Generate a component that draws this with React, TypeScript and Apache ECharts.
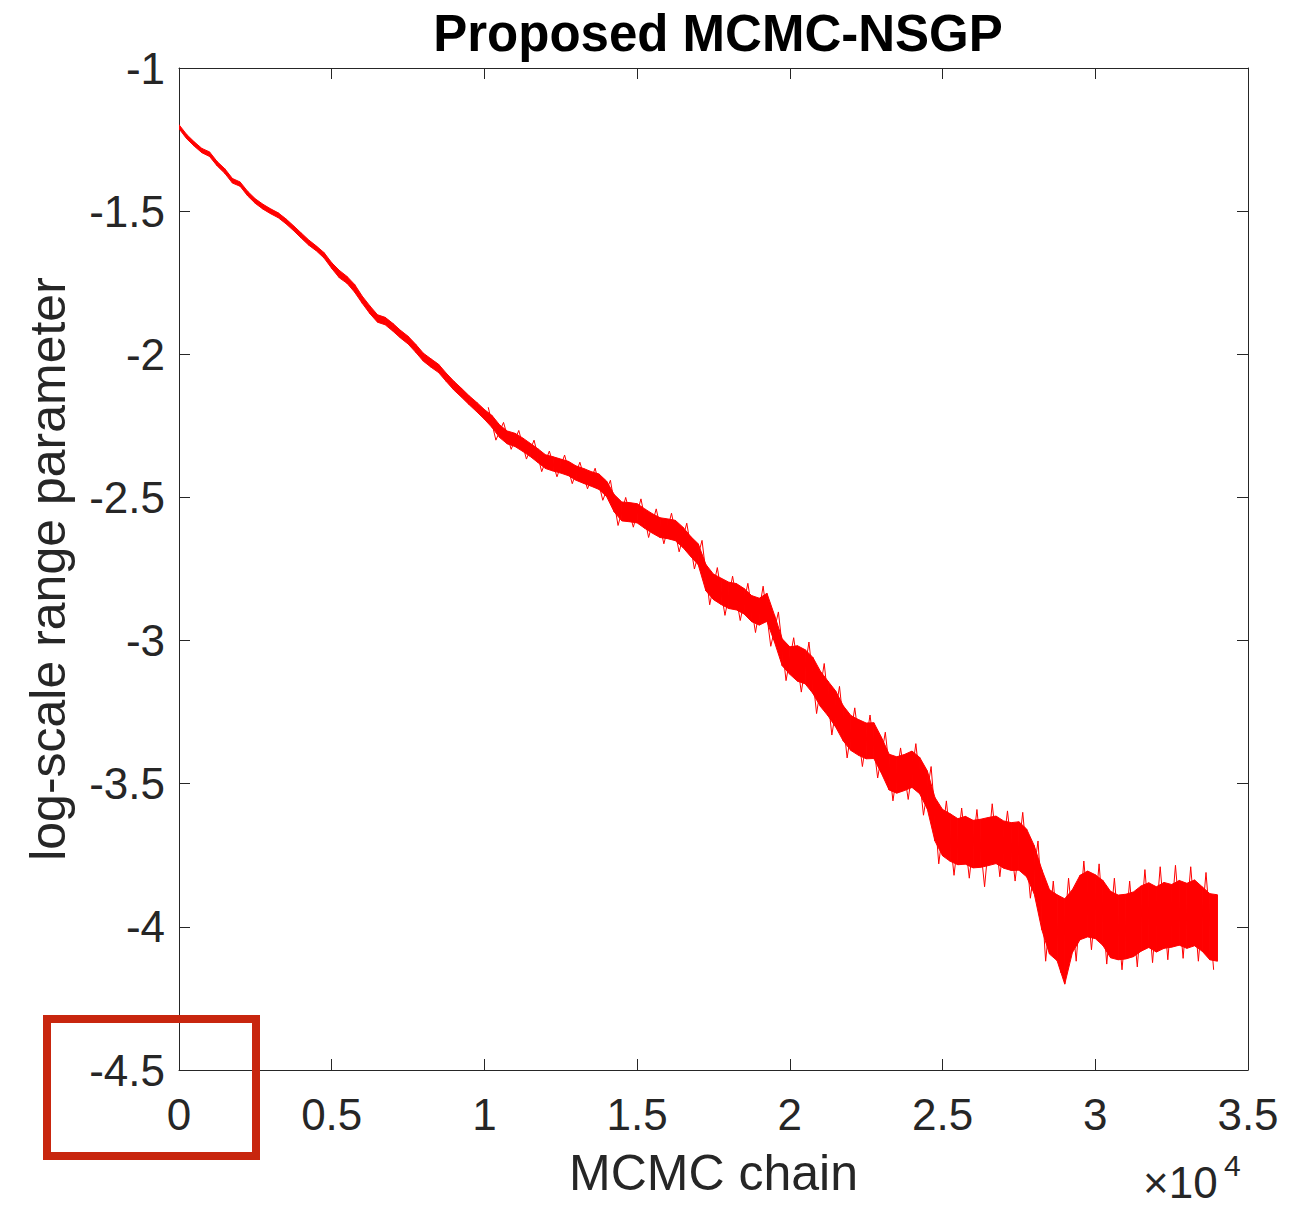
import React, { useEffect, useRef } from "react";
import * as echarts from "echarts";

// Sample spacing along the chain (iterations) for the read-off envelopes
const STEP = 250;

// Upper edge of the trace band, every 250 iterations
const upper: number[] = [
  -1.198, -1.232, -1.258, -1.281, -1.293, -1.327, -1.352, -1.386, -1.398, -1.431,
  -1.457, -1.476, -1.492, -1.506, -1.527, -1.551, -1.576, -1.601, -1.622, -1.645,
  -1.680, -1.707, -1.728, -1.756, -1.797, -1.831, -1.862, -1.871, -1.892, -1.916,
  -1.937, -1.965, -1.996, -2.016, -2.035, -2.066, -2.094, -2.119, -2.145, -2.168,
  -2.193, -2.214, -2.247, -2.268, -2.276, -2.292, -2.311, -2.330, -2.351, -2.358,
  -2.366, -2.374, -2.390, -2.399, -2.410, -2.418, -2.443, -2.490, -2.516, -2.518,
  -2.522, -2.540, -2.557, -2.571, -2.575, -2.580, -2.604, -2.636, -2.662, -2.734,
  -2.768, -2.782, -2.796, -2.801, -2.818, -2.843, -2.852, -2.835, -2.912, -2.994,
  -3.022, -3.018, -3.032, -3.058, -3.107, -3.142, -3.176, -3.228, -3.262, -3.276,
  -3.288, -3.287, -3.338, -3.397, -3.406, -3.398, -3.386, -3.408, -3.455, -3.548,
  -3.590, -3.605, -3.622, -3.614, -3.628, -3.624, -3.618, -3.613, -3.630, -3.636,
  -3.633, -3.658, -3.716, -3.800, -3.870, -3.888, -3.902, -3.870, -3.820, -3.805,
  -3.818, -3.838, -3.876, -3.889, -3.886, -3.878, -3.857, -3.846, -3.860, -3.845,
  -3.852, -3.838, -3.848, -3.836, -3.860, -3.884, -3.888,
];

// Lower edge of the trace band, every 250 iterations
const lower: number[] = [
  -1.212, -1.247, -1.273, -1.296, -1.309, -1.342, -1.368, -1.402, -1.413, -1.447,
  -1.473, -1.493, -1.509, -1.523, -1.544, -1.568, -1.594, -1.619, -1.639, -1.664,
  -1.700, -1.733, -1.752, -1.783, -1.822, -1.858, -1.888, -1.897, -1.919, -1.943,
  -1.964, -1.993, -2.024, -2.045, -2.064, -2.095, -2.125, -2.150, -2.176, -2.201,
  -2.227, -2.256, -2.291, -2.313, -2.322, -2.339, -2.357, -2.378, -2.399, -2.408,
  -2.415, -2.424, -2.440, -2.451, -2.461, -2.472, -2.497, -2.551, -2.582, -2.585,
  -2.589, -2.608, -2.625, -2.640, -2.644, -2.651, -2.675, -2.706, -2.735, -2.826,
  -2.857, -2.874, -2.888, -2.893, -2.907, -2.934, -2.946, -2.933, -3.006, -3.088,
  -3.118, -3.142, -3.151, -3.184, -3.230, -3.263, -3.302, -3.351, -3.384, -3.401,
  -3.413, -3.412, -3.464, -3.522, -3.533, -3.524, -3.513, -3.535, -3.588, -3.700,
  -3.752, -3.771, -3.783, -3.781, -3.794, -3.792, -3.786, -3.779, -3.795, -3.803,
  -3.802, -3.825, -3.884, -4.010, -4.095, -4.118, -4.200, -4.090, -4.045, -4.035,
  -4.041, -4.065, -4.108, -4.115, -4.112, -4.104, -4.085, -4.072, -4.088, -4.075,
  -4.071, -4.064, -4.075, -4.066, -4.085, -4.115, -4.120,
];

// Spike extremes of the trace, one per 250-iteration
// segment starting at iteration 10000 (alternating up / down excursions)
const SPIKE_START = 40;
const spikes: number[] = [
  -2.185, -2.300, -2.238, -2.332, -2.266, -2.366, -2.300, -2.410, -2.338, -2.428,
  -2.352, -2.452, -2.377, -2.470, -2.398, -2.510, -2.440, -2.598, -2.500, -2.604,
  -2.505, -2.640, -2.540, -2.662, -2.555, -2.690, -2.590, -2.750, -2.650, -2.875,
  -2.745, -2.912, -2.775, -2.930, -2.800, -2.972, -2.810, -3.020, -2.900, -3.140,
  -2.990, -3.180, -3.005, -3.255, -3.080, -3.330, -3.160, -3.410, -3.235, -3.440,
  -3.260, -3.480, -3.320, -3.560, -3.375, -3.555, -3.360, -3.610, -3.440, -3.780,
  -3.560, -3.820, -3.585, -3.830, -3.590, -3.860, -3.570, -3.825, -3.595, -3.840,
  -3.600, -3.900, -3.700, -4.120, -3.840, -4.160, -3.830, -4.120, -3.770, -4.080,
  -3.780, -4.130, -3.830, -4.150, -3.840, -4.140, -3.800, -4.125, -3.790, -4.115,
  -3.785, -4.110, -3.790, -4.120, -3.810, -4.150,
];

const xTicks = [0, 5000, 10000, 15000, 20000, 25000, 30000, 35000];
const yTicks = [-4.5, -4, -3.5, -3, -2.5, -2, -1.5, -1];

const TITLE = "Proposed MCMC-NSGP";
const X_NAME = "MCMC chain";
const Y_NAME = "log-scale range parameter";

const FONT = "'Liberation Sans', Arial, Helvetica, sans-serif";
const AX = "#262626";
const RED = "#ff0000";

export default function App() {
  const ref = useRef<HTMLDivElement>(null);
  useEffect(() => {
    document.body.style.margin = "0";
    const chart = echarts.init(ref.current!, null, { renderer: "svg" });
    // one item per segment between consecutive samples: [x0, x1, lower0, upper0, lower1, upper1]
    const segData = upper.slice(0, -1).map((u, i) => [
      i * STEP,
      (i + 1) * STEP,
      lower[i],
      u,
      lower[i + 1],
      upper[i + 1],
    ]);
    const spikeData = spikes.map((v, j) => [(SPIKE_START + j) * STEP + STEP / 2, v]);
    const baseAxis = {
      type: "value" as const,
      splitLine: { show: false },
      axisLine: { show: true, onZero: false, lineStyle: { color: AX, width: 1 } },
      axisTick: { show: true, inside: true, length: 11, lineStyle: { color: AX, width: 1 } },
    };
    chart.setOption({
      animation: false,
      backgroundColor: "#ffffff",
      title: {
        text: TITLE,
        left: 713,
        top: 3,
        textAlign: "center",
        textStyle: { fontFamily: FONT, fontSize: 51, fontWeight: "bold", color: "#000" },
      },
      grid: { left: 179, top: 68, right: 61, bottom: 136, containLabel: false },
      xAxis: [
        {
          ...baseAxis,
          position: "bottom",
          min: xTicks[0],
          max: xTicks[xTicks.length - 1],
          interval: 5000,
          axisLabel: {
            formatter: (v: number) => String(v / 10000),
            fontSize: 44,
            color: AX,
            fontFamily: FONT,
            margin: 22,
          },
          name: X_NAME,
          nameLocation: "middle",
          nameGap: 78,
          nameTextStyle: { fontSize: 50, color: AX, fontFamily: FONT },
        },
        {
          ...baseAxis,
          position: "top",
          min: xTicks[0],
          max: xTicks[xTicks.length - 1],
          interval: 5000,
          axisLabel: { show: false },
        },
      ],
      yAxis: [
        {
          ...baseAxis,
          position: "left",
          min: yTicks[0],
          max: yTicks[yTicks.length - 1],
          interval: 0.5,
          axisLabel: {
            fontSize: 44,
            color: AX,
            fontFamily: FONT,
            margin: 14,
          },
          name: Y_NAME,
          nameLocation: "middle",
          nameGap: 106,
          nameTextStyle: { fontSize: 50, color: AX, fontFamily: FONT },
        },
        {
          ...baseAxis,
          position: "right",
          min: yTicks[0],
          max: yTicks[yTicks.length - 1],
          interval: 0.5,
          axisLabel: { show: false },
        },
      ],
      series: [
        {
          type: "custom",
          name: "trace",
          data: segData,
          encode: { x: [0, 1], y: [2, 3, 4, 5] },
          clip: true,
          renderItem: (params: any, api: any) => {
            const a = api.coord([api.value(0), api.value(3)]);
            const b = api.coord([api.value(1), api.value(5)]);
            const c = api.coord([api.value(1), api.value(4)]);
            const d = api.coord([api.value(0), api.value(2)]);
            return {
              type: "polygon",
              shape: { points: [a, b, c, d] },
              style: { fill: RED, stroke: RED, lineWidth: 1 },
            };
          },
          z: 3,
        },
        {
          type: "line",
          name: "spikes",
          data: spikeData,
          symbol: "none",
          showSymbol: false,
          lineStyle: { color: RED, width: 1 },
          clip: true,
          z: 3,
        },
      ],
      graphic: [
        {
          type: "text",
          left: 1143,
          top: 1160,
          style: { text: "×10", fontSize: 44, fill: AX, fontFamily: FONT },
        },
        {
          type: "text",
          left: 1224,
          top: 1150,
          style: { text: "4", fontSize: 30, fill: AX, fontFamily: FONT },
        },
        {
          type: "rect",
          shape: { x: 47, y: 1019, width: 209, height: 137 },
          style: { fill: "none", stroke: "#c8260e", lineWidth: 8 },
          z: 100,
        },
      ],
    });
    return () => chart.dispose();
  }, []);
  return <div ref={ref} style={{ width: 1309, height: 1206 }} />;
}
